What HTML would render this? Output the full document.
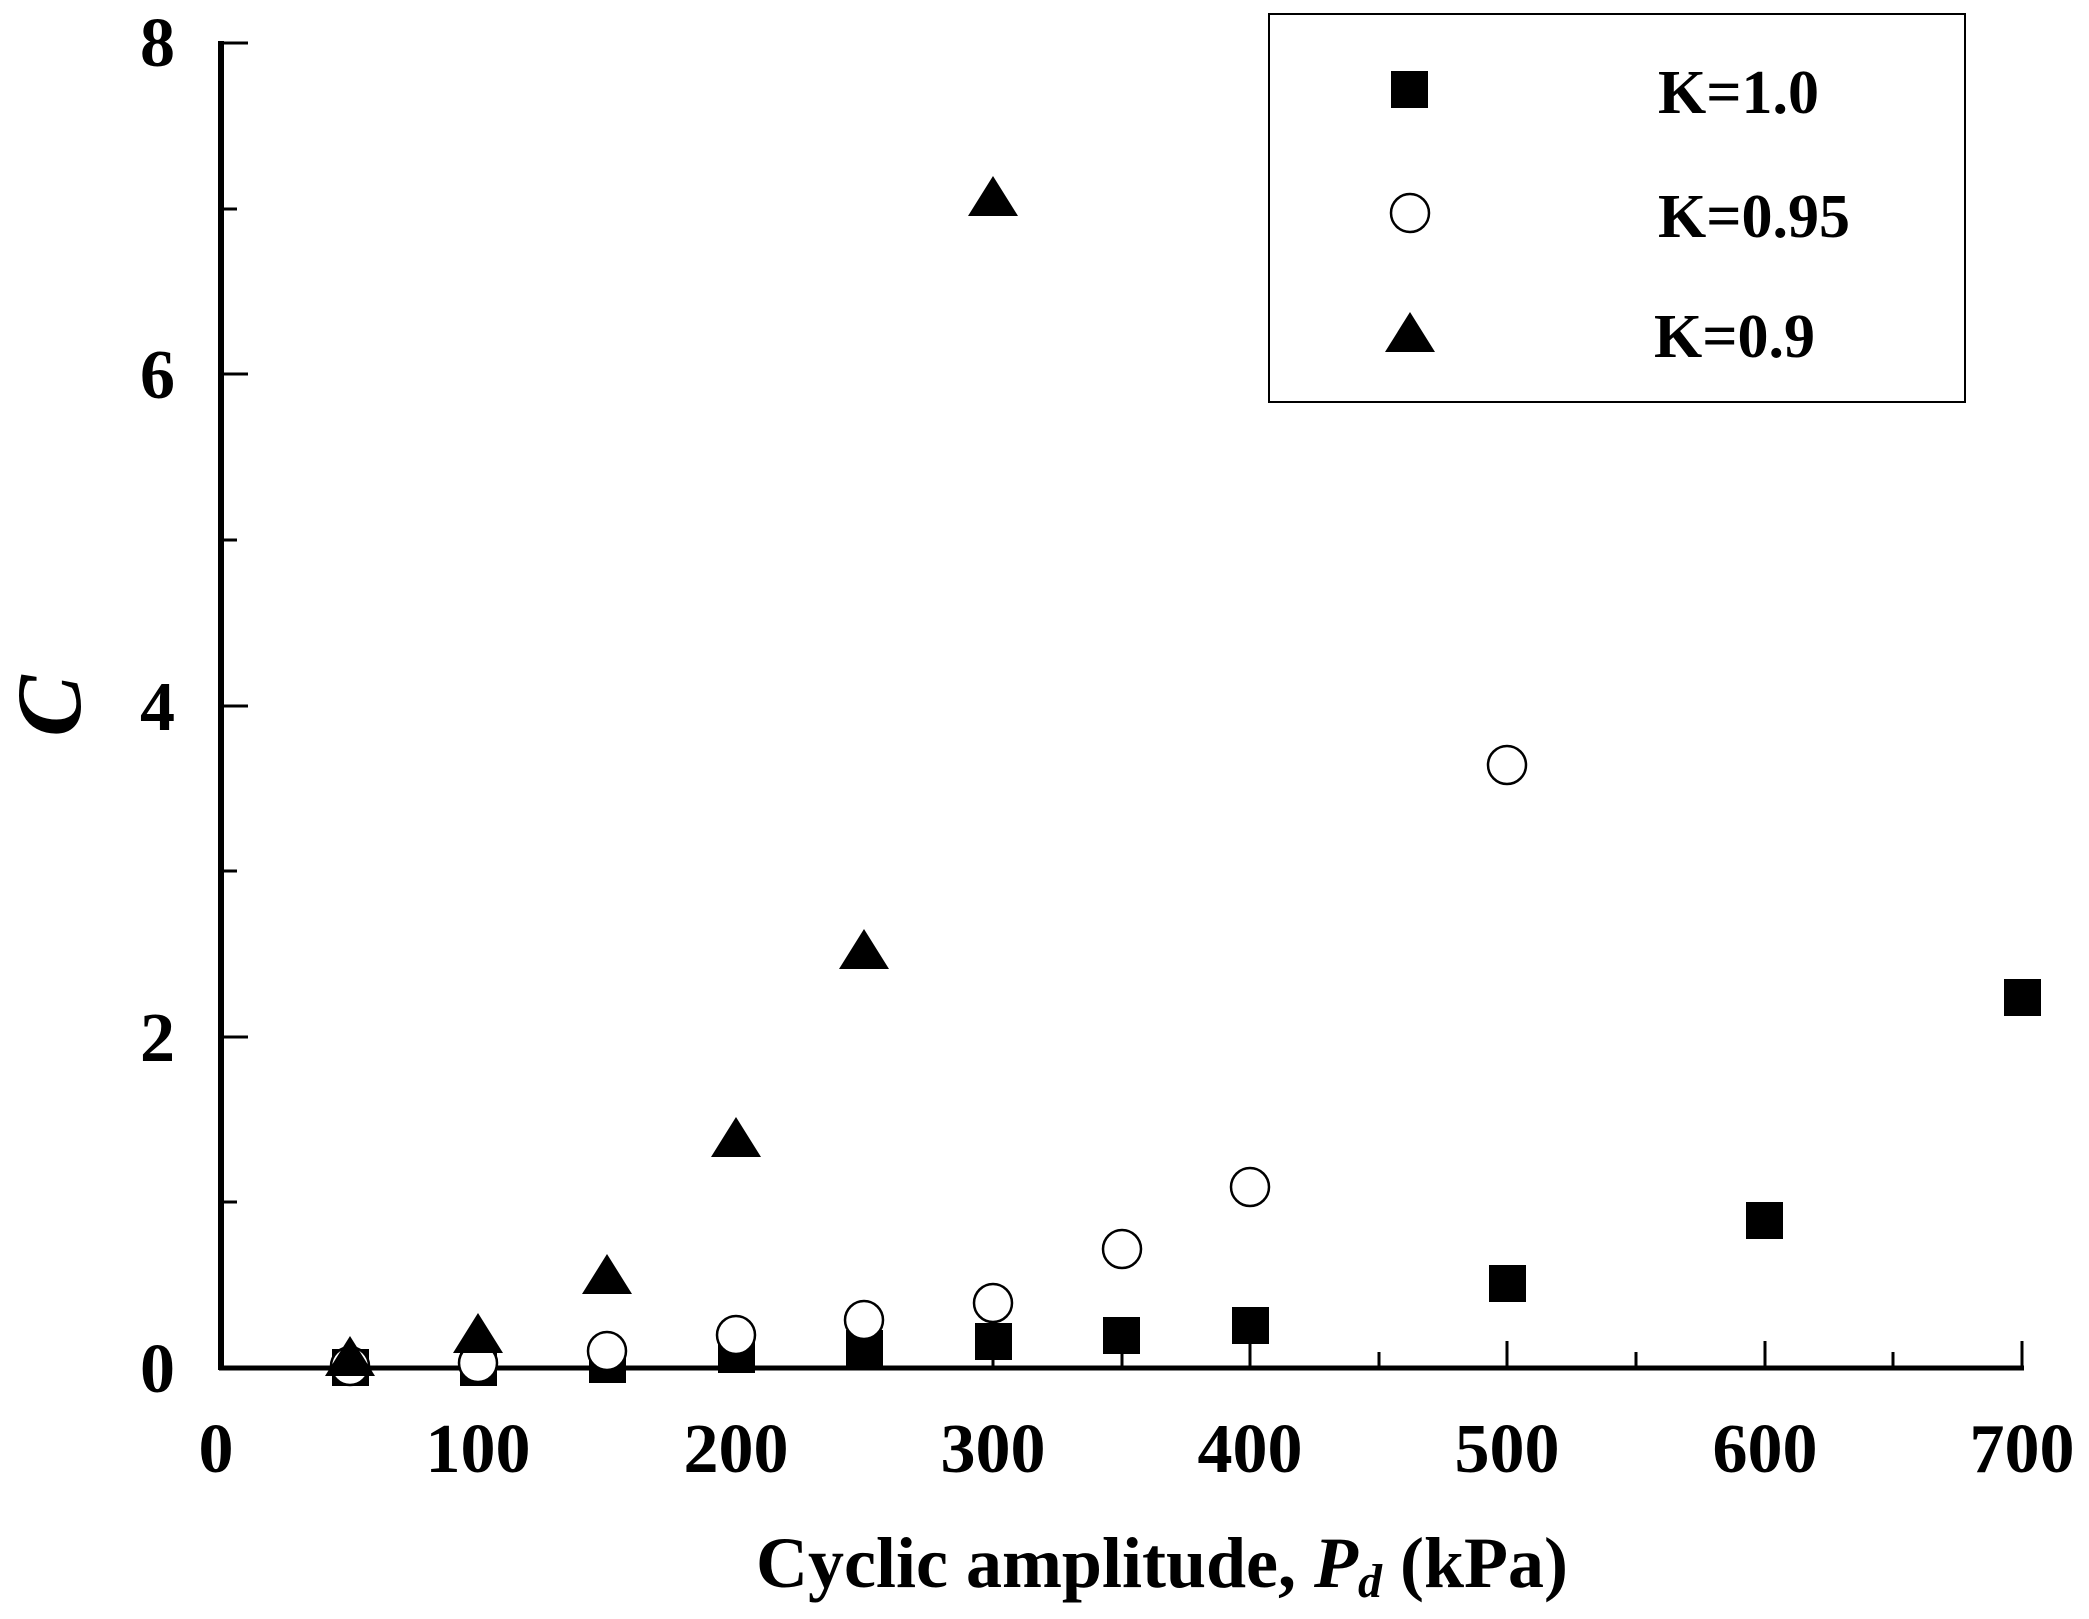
<!DOCTYPE html>
<html><head><meta charset="utf-8"><style>
html,body{margin:0;padding:0;background:#fff;}
svg{display:block;}
text{font-family:"Liberation Serif",serif;font-weight:bold;fill:#000;}
</style></head><body>
<svg width="2089" height="1619" viewBox="0 0 2089 1619" xmlns="http://www.w3.org/2000/svg">
<g stroke="#000" stroke-width="3">
<line x1="221" y1="41" x2="221" y2="1370" stroke-width="6"/>
<line x1="219" y1="1368" x2="2024" y2="1368" stroke-width="5"/>
<line x1="221" y1="43" x2="248" y2="43"/>
<line x1="221" y1="209" x2="237" y2="209"/>
<line x1="221" y1="374" x2="248" y2="374"/>
<line x1="221" y1="540" x2="237" y2="540"/>
<line x1="221" y1="706" x2="248" y2="706"/>
<line x1="221" y1="871" x2="237" y2="871"/>
<line x1="221" y1="1037" x2="248" y2="1037"/>
<line x1="221" y1="1202" x2="237" y2="1202"/>
<line x1="350" y1="1368" x2="350" y2="1352"/>
<line x1="478" y1="1368" x2="478" y2="1341"/>
<line x1="607" y1="1368" x2="607" y2="1352"/>
<line x1="736" y1="1368" x2="736" y2="1341"/>
<line x1="864" y1="1368" x2="864" y2="1352"/>
<line x1="993" y1="1368" x2="993" y2="1341"/>
<line x1="1122" y1="1368" x2="1122" y2="1352"/>
<line x1="1250" y1="1368" x2="1250" y2="1341"/>
<line x1="1379" y1="1368" x2="1379" y2="1352"/>
<line x1="1507" y1="1368" x2="1507" y2="1341"/>
<line x1="1636" y1="1368" x2="1636" y2="1352"/>
<line x1="1765" y1="1368" x2="1765" y2="1341"/>
<line x1="1893" y1="1368" x2="1893" y2="1352"/>
<line x1="2022" y1="1368" x2="2022" y2="1341"/>
</g>
<g font-size="70" text-anchor="end">
<text x="175" y="66">8</text>
<text x="175" y="398">6</text>
<text x="175" y="730">4</text>
<text x="175" y="1061">2</text>
<text x="175" y="1392">0</text>
</g>
<g font-size="70" text-anchor="middle">
<text x="216" y="1472">0</text>
<text x="478" y="1472">100</text>
<text x="736" y="1472">200</text>
<text x="993" y="1472">300</text>
<text x="1250" y="1472">400</text>
<text x="1507" y="1472">500</text>
<text x="1765" y="1472">600</text>
<text x="2022" y="1472">700</text>
</g>
<text x="1162" y="1587" font-size="72" text-anchor="middle">Cyclic amplitude, <tspan font-style="italic">P</tspan><tspan font-style="italic" font-size="48" dy="10">d</tspan><tspan dy="-10"> (kPa)</tspan></text>
<text transform="translate(80,706) rotate(-90)" font-size="92" font-style="italic" text-anchor="middle">C</text>
<rect x="1269" y="14" width="696" height="388" fill="none" stroke="#000" stroke-width="2"/>
<rect x="1391" y="71" width="37" height="37" fill="#000"/>
<circle cx="1410" cy="213" r="19" fill="#fff" stroke="#000" stroke-width="2.5"/>
<polygon points="1385,352 1435,352 1410,312" fill="#000"/>
<g font-size="62">
<text x="1658" y="113">K=1.0</text>
<text x="1658" y="237">K=0.95</text>
<text x="1654" y="357">K=0.9</text>
</g>
<g fill="#000">
<rect x="332" y="1349" width="37" height="37"/>
<rect x="460" y="1349" width="37" height="37"/>
<rect x="589" y="1346" width="37" height="37"/>
<rect x="718" y="1336" width="37" height="37"/>
<rect x="846" y="1330" width="37" height="37"/>
<rect x="975" y="1323" width="37" height="37"/>
<rect x="1103" y="1317" width="37" height="37"/>
<rect x="1232" y="1307" width="37" height="37"/>
<rect x="1489" y="1265" width="37" height="37"/>
<rect x="1746" y="1202" width="37" height="37"/>
<rect x="2004" y="979" width="37" height="37"/>
</g>
<g fill="#fff" stroke="#000" stroke-width="2.5">
<circle cx="350" cy="1366" r="19"/>
<circle cx="478" cy="1363" r="19"/>
<circle cx="607" cy="1351" r="19"/>
<circle cx="736" cy="1335" r="19"/>
<circle cx="864" cy="1320" r="19"/>
<circle cx="993" cy="1303" r="19"/>
<circle cx="1122" cy="1249" r="19"/>
<circle cx="1250" cy="1187" r="19"/>
<circle cx="1507" cy="765" r="19"/>
</g>
<g fill="#000">
<polygon points="325,1376 375,1376 350,1336"/>
<polygon points="453,1353 503,1353 478,1313"/>
<polygon points="582,1294 632,1294 607,1254"/>
<polygon points="711,1157 761,1157 736,1117"/>
<polygon points="839,969 889,969 864,929"/>
<polygon points="968,216 1018,216 993,176"/>
</g>
</svg>
</body></html>
